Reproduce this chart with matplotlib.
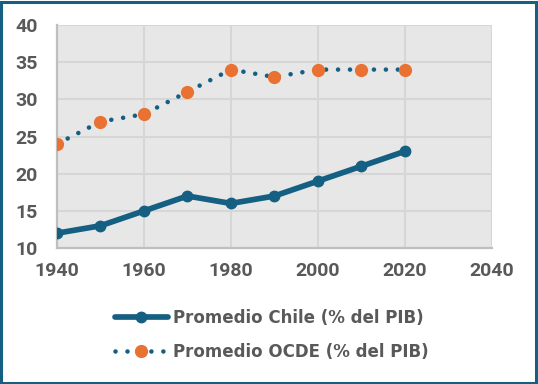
import matplotlib
matplotlib.use('Agg')
import matplotlib.pyplot as plt
from matplotlib.patches import Rectangle

# data
years = [1940, 1950, 1960, 1970, 1980, 1990, 2000, 2010, 2020]
chile = [12, 13, 15, 17, 16, 17, 19, 21, 23]
ocde = [24, 27, 28, 31, 34, 33, 34, 34, 34]
x_ticks = [1940, 1960, 1980, 2000, 2020, 2040]
y_ticks = [10, 15, 20, 25, 30, 35, 40]
labels = ['Promedio Chile (% del PIB)', 'Promedio OCDE (% del PIB)']

blue = '#156082'
orange = '#E97132'
txt = '#595959'

fig = plt.figure(figsize=(5.38, 3.84), dpi=100)
ax = fig.add_axes([0.106, 0.354, 0.808, 0.581])
ax.set_facecolor('#e7e7e7')

ax.plot(years, chile, color=blue, lw=4.1, marker='o', ms=7.5,
        solid_capstyle='round', solid_joinstyle='round', label=labels[0], zorder=3)
ax.plot(years, ocde, color=blue, lw=3.3, linestyle=(0, (0.01, 2.6)),
        dash_capstyle='round', marker='o', ms=8.5, mfc=orange, mec=orange,
        label=labels[1], zorder=3)

ax.set_xlim(1940, 2040)
ax.set_ylim(10, 40)
ax.set_xticks(x_ticks)
ax.set_yticks(y_ticks)
ax.grid(True, color='#d6d6d6', lw=1.5)
ax.set_axisbelow(True)
for s in ['top', 'right']:
    ax.spines[s].set_visible(False)
for s in ['left', 'bottom']:
    ax.spines[s].set_color('#bfbfbf')
    ax.spines[s].set_linewidth(1.6)
ax.tick_params(length=0, labelcolor=txt)
ax.tick_params(axis='y', pad=14)
ax.tick_params(axis='x', pad=10)
for t in ax.get_xticklabels() + ax.get_yticklabels():
    t.set_fontweight('bold')
    t.set_family('Roboto')
    t.set_fontsize(14)

leg = fig.legend(loc='center', bbox_to_anchor=(0.505, 0.127), ncol=1, frameon=False,
                 prop={'weight': 'bold', 'size': 12}, labelcolor=txt,
                 handlelength=3.2, handletextpad=0.3, labelspacing=0.95)

fig.patches.append(Rectangle((0.002, 0.003), 0.995, 0.993, transform=fig.transFigure,
                             fill=False, edgecolor=blue, lw=2.2))

fig.savefig('out.png', dpi=100)
